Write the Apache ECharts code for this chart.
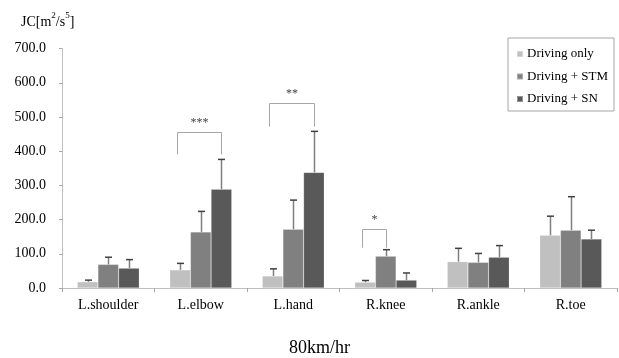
<!DOCTYPE html>
<html>
<head>
<meta charset="utf-8">
<script src="https://cdn.jsdelivr.net/npm/echarts@6/dist/echarts.min.js"></script>
<style>html,body{margin:0;padding:0;background:#fff;}#c{width:619px;height:358px;}</style>
</head>
<body>
<div id="c"></div>
<script>
var categories = ['L.shoulder', 'L.elbow', 'L.hand', 'R.knee', 'R.ankle', 'R.toe'];
var seriesNames = ['Driving only', 'Driving + STM', 'Driving + SN'];
var drivingOnly = [18, 53, 35, 17, 77, 154];
var drivingOnlySD = [5, 19, 21, 5, 39, 56];
var drivingSTM = [69, 164, 172, 93, 75, 169];
var drivingSTMSD = [21, 60, 85, 19, 26, 98];
var drivingSN = [58, 289, 338, 23, 90, 143];
var drivingSNSD = [25, 87, 120, 21, 34, 26];
// significance brackets: [category index, from series, to series, top value, leg bottom value, label]
var brackets = [
  [1, 0, 2, 455, 391, '***'],
  [2, 0, 2, 540, 472, '**'],
  [3, 0, 1, 172, 118, '*']
];

var colors = ['#c0c0c0', '#808080', '#595959'];
var means = [drivingOnly, drivingSTM, drivingSN];
var sds = [drivingOnlySD, drivingSTMSD, drivingSNSD];
var gapRatio = 0.33;
var serif = '"Liberation Serif", "DejaVu Serif", serif';

function barOffset(api, s) {
  var band = api.size([1, 0])[0];
  var bw = band * (1 - gapRatio) / 3;
  return { bw: bw, off: (s - 1) * bw };
}

var series = [];
for (var s = 0; s < 3; s++) {
  series.push({
    name: seriesNames[s],
    type: 'bar',
    data: means[s],
    barGap: '0%',
    barCategoryGap: '33%',
    itemStyle: { color: colors[s], borderColor: 'rgba(255,255,255,0.35)', borderWidth: 0.5 },
    z: 2
  });
}
for (var s2 = 0; s2 < 3; s2++) {
  (function (si) {
    series.push({
      type: 'custom',
      name: 'err' + si,
      z: 5,
      silent: true,
      data: means[si].map(function (v, i) { return [i, v, v + sds[si][i]]; }),
      encode: { x: 0, y: [1, 2] },
      renderItem: function (params, api) {
        var c = api.value(0);
        var p0 = api.coord([c, api.value(1)]);
        var p1 = api.coord([c, api.value(2)]);
        var o = barOffset(api, si);
        var x = Math.round(p0[0] + o.off) + 0.5;
        return {
          type: 'group',
          children: [
            { type: 'line', shape: { x1: x, y1: p0[1], x2: x, y2: p1[1] }, style: { stroke: '#7f7f7f', lineWidth: 1.5 } },
            { type: 'line', shape: { x1: x - 3.5, y1: p1[1], x2: x + 3.5, y2: p1[1] }, style: { stroke: '#404040', lineWidth: 1.5 } }
          ]
        };
      }
    });
  })(s2);
}
series.push({
  type: 'custom',
  name: 'brackets',
  z: 6,
  silent: true,
  data: brackets,
  encode: { x: 0, y: 3 },
  renderItem: function (params, api) {
    var c = api.value(0);
    var a = api.value(1), b = api.value(2);
    var top = api.coord([c, api.value(3)]);
    var bot = api.coord([c, api.value(4)]);
    var oa = barOffset(api, a), ob = barOffset(api, b);
    var xl = Math.round(top[0] + oa.off - oa.bw * 0.17) + 0.5;
    var xr = Math.round(top[0] + ob.off) + 0.5;
    var yt = Math.round(top[1]) + 0.5;
    var lab = brackets[params.dataIndex][5];
    return {
      type: 'group',
      children: [
        { type: 'polyline', shape: { points: [[xl, bot[1]], [xl, yt], [xr, yt], [xr, bot[1]]] }, style: { stroke: '#a6a6a6', lineWidth: 1, fill: null } },
        { type: 'text', style: { text: lab, x: (xl + xr) / 2, y: yt - 4, align: 'center', verticalAlign: 'bottom', fill: '#404040', font: '12px ' + serif } }
      ]
    };
  }
});

var chart = echarts.init(document.getElementById('c'), null, { renderer: 'canvas' });
chart.setOption({
  animation: false,
  backgroundColor: '#fff',
  title: [
    {
      text: '{a|JC[m}{s|2}{a|/s}{s|5}{a|]}',
      left: 16, top: 6,
      textStyle: { fontWeight: 'normal', rich: { a: { fontFamily: serif, fontSize: 14, fontWeight: 'normal', color: '#000', verticalAlign: 'bottom', lineHeight: 18 }, s: { fontFamily: serif, fontSize: 9, fontWeight: 'normal', color: '#000', verticalAlign: 'top', lineHeight: 18, padding: [0, 0, 8, 0] } } }
    },
    {
      text: '80km/hr',
      left: 284, top: 334,
      textStyle: { fontFamily: serif, fontSize: 18, fontWeight: 'normal', color: '#000' }
    }
  ],
  legend: {
    data: seriesNames,
    orient: 'vertical',
    left: 508, top: 38,
    padding: [9, 6, 5, 8],
    itemGap: 8.5,
    itemWidth: 6, itemHeight: 6,
    icon: 'rect',
    borderColor: '#a6a6a6', borderWidth: 1,
    backgroundColor: '#fff',
    textStyle: { fontFamily: serif, fontSize: 13, color: '#000', lineHeight: 14, padding: [0, 0, 0, -1] }
  },
  grid: { left: 62, right: 2, top: 48.6, bottom: 70, containLabel: false },
  xAxis: {
    type: 'category',
    data: categories,
    axisLine: { lineStyle: { color: '#bfbfbf', width: 1 } },
    axisTick: { show: true, alignWithLabel: false, length: 4, lineStyle: { color: '#a6a6a6' } },
    axisLabel: { fontFamily: serif, fontSize: 14, color: '#000', margin: 10 },
    splitLine: { show: false }
  },
  yAxis: {
    type: 'value',
    min: 0, max: 700, interval: 100,
    axisLine: { show: true, lineStyle: { color: '#bfbfbf', width: 1 } },
    axisTick: { show: true, length: 3, lineStyle: { color: '#a6a6a6' } },
    axisLabel: { fontFamily: serif, fontSize: 14, color: '#000', margin: 16, formatter: function (v) { return v.toFixed(1); } },
    splitLine: { show: false }
  },
  series: series
});
</script>
</body>
</html>
